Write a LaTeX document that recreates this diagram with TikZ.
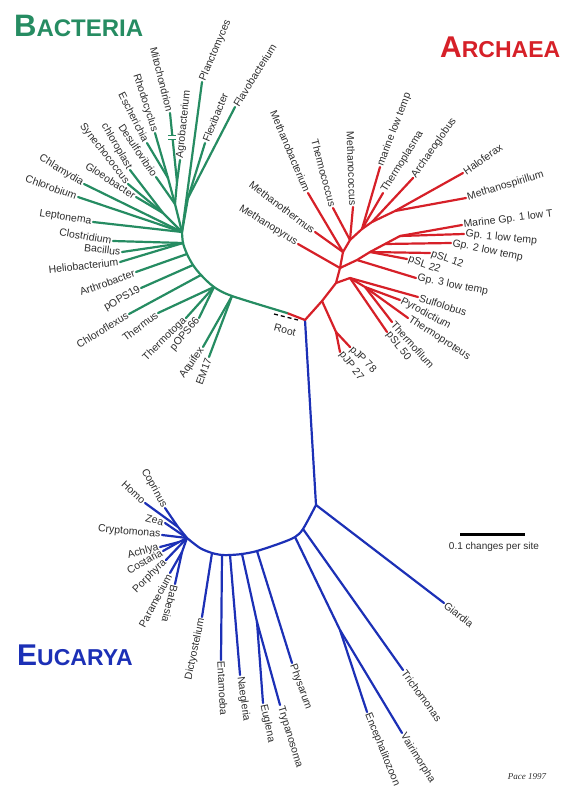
\documentclass[tikz,border=0pt]{standalone}
\usepackage{fontspec}
\setmainfont{Liberation Sans}
\newfontfamily\pacefont{Liberation Serif}
\usetikzlibrary{positioning}

\definecolor{bactgreen}{RGB}{38,140,98}
\definecolor{archred}{RGB}{214,32,40}
\definecolor{eucblue}{RGB}{28,48,182}
\definecolor{labelgray}{RGB}{45,45,45}

\tikzset{
  branch/.style={line width=2.2pt,line cap=round,line join=round},
  bact/.style={branch,draw=bactgreen},
  arch/.style={branch,draw=archred},
  euc/.style={branch,draw=eucblue},
  leaf/.style={font=\fontsize{10.5}{12}\selectfont,text=labelgray,inner sep=1.5pt},
  domainname/.style={font=\bfseries,anchor=base west,inner sep=0pt},
}

\begin{document}
\begin{tikzpicture}[x=1pt,y=-1pt]
  \useasboundingbox (0,0) rectangle (570,792);

  % main stem and root
  \coordinate (root) at (305,320);
  \coordinate (gsplit) at (287,313);
  \coordinate (eu0) at (316,505);
  \draw[arch] (root) -- (gsplit);
  \draw[euc] (root) -- (eu0);

  % bacteria
  \foreach \n/\x/\y in {b1/232/296,b2/214/287,b3/201/275,b4/193/265,b5/187/254,b6/183/243,b7/182/232,
                        cy/163/213,pr/175/204,pb/168/178,pa/177/182,cf/188/198}{
    \coordinate (\n) at (\x,\y);
  }
  \draw[bact] plot[smooth] coordinates {(gsplit) (b1) (b2) (b3) (b4) (b5) (b6) (b7)};
  \foreach \u/\v in {b7/cy,b7/pr,pr/pb,pr/pa,b7/cf}{
    \draw[bact] (\u) -- (\v);
  }
  \foreach \p/\x/\y/\a/\s/\t [count=\i] in {
      b1/203/347/55/east/Aquifex,
      b1/209/357/70/east/EM17,
      b2/186/318/45/east/Thermotoga,
      b2/199/318/50/east/pOPS66,
      b2/158/313/37/east/Thermus,
      b3/129/314/31/east/Chloroflexus,
      b4/141/288/30/east/pOPS19,
      b5/136/272/20/east/Arthrobacter,
      b6/120/262/6/east/Heliobacterium,
      b6/122/252/-7/east/Bacillus,
      b6/113/241/-10/east/Clostridium,
      b7/93/222/-9/east/Leptonema,
      b7/78/197/-20/east/Chlorobium,
      b7/84/184/-31/east/Chlamydia,
      cy/136/197/-33/east/Gloeobacter,
      cy/128/184/-52/east/Synechococcus,
      cy/130/170/-60/east/chloroplast,
      pr/156/177/-56/east/Desulfovibrio,
      pb/147/143/-63/east/Escherichia,
      pb/155/133/-72/east/Rhodocyclus,
      pa/170/113/-76/east/Mitochondrion,
      pa/180/160/84/west/Agrobacterium,
      cf/205/143/68/west/Flexibacter,
      cf/235/107/58/west/Flavobacterium,
      b7/202/82/67/west/Planctomyces}{
    \coordinate (bt\i) at (\x,\y);
    \draw[bact] (\p) -- (bt\i);
    \node[leaf,anchor=\s,rotate=\a] (bl\i) at (bt\i) {\t};
  }
  % break mark on the mitochondrial branch
  \path (pa) -- (bt21) coordinate[pos=0.65] (mbrk);
  \draw[white,line width=4pt] ([yshift=-2.5pt]mbrk) -- ([yshift=2.5pt]mbrk);
  \draw[bactgreen,line width=1pt] ([xshift=-4pt,yshift=2pt]mbrk) -- ([xshift=4pt,yshift=2pt]mbrk);
  \draw[bactgreen,line width=1pt] ([xshift=-4pt,yshift=-2pt]mbrk) -- ([xshift=4pt,yshift=-2pt]mbrk);

  % archaea
  \foreach \n/\x/\y in {a1/322/301,a2/336/283,pj/336/332,cr/350/278,cr2/365/287,
                        e1/340/268,e2/343/252,e3/350/240,e4/362/229,e5/372/222,e6/395/211,
                        m0/357/260,m1/370/252,m2/385/244,m3/400/236}{
    \coordinate (\n) at (\x,\y);
  }
  \foreach \u/\v in {root/a1,a1/a2,a1/pj,a2/cr,cr/cr2,a2/e1,e1/e2,e2/e3,e3/e4,e4/e5,e5/e6,
                     e1/m0,m0/m1,m1/m2,m2/m3}{
    \draw[arch] (\u) -- (\v);
  }
  \foreach \p/\x/\y/\a/\s/\t [count=\i] in {
      pj/350/347/-45/west/pJP 78,
      pj/340/352/-52/west/pJP 27,
      cr/418/297/-18/west/Sulfolobus,
      cr2/400/300/-28/west/Pyrodictium,
      cr2/408/318/-33/west/Thermoproteus,
      cr2/392/322/-48/west/Thermofilum,
      cr/387/332/-52/west/pSL 50,
      m0/416/278/-11/west/Gp. 3 low temp,
      m1/407/259/-19/west/pSL 22,
      m1/430/253/-20/west/pSL 12,
      m2/451/243/-12/west/Gp. 2 low temp,
      m3/464/234/-6/west/Gp. 1 low temp,
      m3/462/225/7/west/Marine Gp. 1 low T,
      e1/298/244/-32/east/Methanopyrus,
      e2/315/232/-37/east/Methanothermus,
      e2/308/193/-67/east/Methanobacterium,
      e3/333/208/-75/east/Thermococcus,
      e3/353/207/-88/east/Methanococcus,
      e4/380/167/69/west/marine low temp,
      e4/383/193/58/west/Thermoplasma,
      e5/413/178/55/west/Archaeoglobus,
      e6/463/173/35/west/Haloferax,
      e6/466/198/17/west/Methanospirillum}{
    \coordinate (at\i) at (\x,\y);
    \draw[arch] (\p) -- (at\i);
    \node[leaf,anchor=\s,rotate=\a] (al\i) at (at\i) {\t};
  }

  % eucarya
  \foreach \n/\x/\y in {ar1/303/529,ar2/295/537,ar3/281/543,ar4/257/551,ar5/242/554,ar6/230/555,
                        ar7/222/555,ar8/212/553,ar9/200/548,cr0/187/538,
                        mi/340/630,eg/257/622,op/178/527,st/179/542,al/182/552}{
    \coordinate (\n) at (\x,\y);
  }
  \draw[euc] plot[smooth] coordinates {(eu0) (ar1) (ar2) (ar3) (ar4) (ar5) (ar6) (ar7) (ar8) (ar9) (cr0)};
  \foreach \u/\v in {ar2/mi,ar5/eg,cr0/op,cr0/st,cr0/al}{
    \draw[euc] (\u) -- (\v);
  }
  \foreach \p/\x/\y/\a/\s/\t [count=\i] in {
      eu0/444/603/-38/west/Giardia,
      ar1/403/670/-54/west/Trichomonas,
      mi/367/712/-68/west/Encephalitozoon,
      mi/402/733/-58/west/Vairimorpha,
      ar4/292/663/-70/west/Physarum,
      eg/263/703/-78/west/Euglena,
      eg/280/705/-73/west/Trypanosoma,
      ar6/240/675/-82/west/Naegleria,
      ar7/221/660/-87/west/Entamoeba,
      ar8/202/617/78/east/Dictyostelium,
      op/145/503/-43/east/Homo,
      op/165/508/-61/east/Coprinus,
      cr0/165/523/-15/east/Zea,
      cr0/162/535/-5/east/Cryptomonas,
      st/160/547/15/east/Achlya,
      st/163/551/30/east/Costaria,
      cr0/166/560/45/east/Porphyra,
      al/170/573/62/east/Paramecium,
      al/175/584/-104/west/Babesia}{
    \coordinate (et\i) at (\x,\y);
    \draw[euc] (\p) -- (et\i);
    \node[leaf,anchor=\s,rotate=\a] (el\i) at (et\i) {\t};
  }

  % root mark
  \coordinate (rd1) at (274,314);
  \coordinate (rd2) at (298,320);
  \draw[black,line width=1.3pt,dash pattern=on 4pt off 3pt] (rd1) -- (rd2);
  \node[leaf,rotate=-15] (rootlbl) at (285,330) {Root};

  % domain names
  \node[domainname,text=bactgreen] (bacteria) at (14,37)
    {\fontsize{31}{31}\selectfont B\fontsize{24}{24}\selectfont ACTERIA};
  \node[domainname,text=archred] (archaea) at (440,57)
    {\fontsize{30}{30}\selectfont A\fontsize{23}{23}\selectfont RCHAEA};
  \node[domainname,text=eucblue] (eucarya) at (17,665)
    {\fontsize{30}{30}\selectfont E\fontsize{23}{23}\selectfont UCARYA};

  % scale bar
  \coordinate (sb1) at (460,534);
  \coordinate (sb2) at (525,534);
  \draw[line width=3pt] (sb1) -- (sb2);
  \node[font=\fontsize{10}{12}\selectfont,text=labelgray] (scale) at (494,547) {0.1 changes per site};

  \node[font=\pacefont\itshape\fontsize{9}{10}\selectfont,text=labelgray] (pace) at (527,777) {Pace 1997};
\end{tikzpicture}
\end{document}
